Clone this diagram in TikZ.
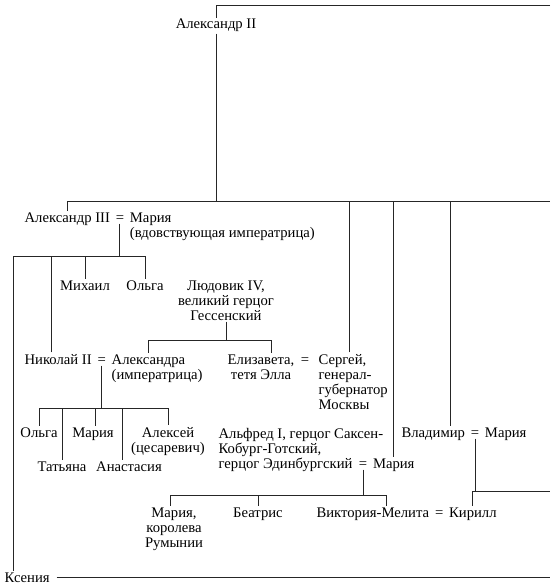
\documentclass[tikz,border=0pt]{standalone}
\usepackage{fontspec}
\setmainfont{Liberation Serif}
\usepackage{tikz}
\usetikzlibrary{calc,positioning}

\tikzset{
  person/.style={inner sep=1pt,anchor=base,align=center,
    font=\fontsize{11}{11.25}\selectfont},
  spouse/.style={person,node distance=2pt},
  tree/.style={line width=0.7pt,color=black!85}
}

\begin{document}
\begin{tikzpicture}[x=0.75pt,y=-0.75pt]
        \useasboundingbox (0,0) rectangle (550,588);
        % levels of the bars
        \coordinate (rim) at (550,5);
        \coordinate (bar1) at (0,201);
        \coordinate (bar2) at (0,256);
        \coordinate (bar3) at (0,340);
        \coordinate (bar4) at (0,408);
        \coordinate (bar5) at (0,495);
        \coordinate (bar6) at (0,491);
        % people (multi-line nodes sit on their last line)
        \node[person] (alex2) at (216,29) {Александр II};
        \node[person,anchor=base west] (alex3) at (23,222) {Александр III};
        \node[spouse,base right=of alex3] (eqA) {=};
        \node[spouse,base right=of eqA] (mariaF) {Мария};
        \node[person,anchor=base west] (dowager) at (mariaF.base west |- 0,237) {(вдовствующая императрица)};
        \node[person] (michail) at (85,290) {Михаил};
        \node[person] (olga1) at (145,290) {Ольга};
        \node[person] (ludwig) at (226,320) {Людовик IV,\\великий герцог\\Гессенский};
        \node[person,anchor=base west] (nik) at (23,364) {Николай II};
        \node[spouse,base right=of nik] (eqB) {=};
        \node[spouse,base right=of eqB] (alexandra) {Александра};
        \node[person,anchor=base west] (empress) at (alexandra.base west |- 0,379) {(императрица)};
        \node[person] (eliz) at (261,379) {Елизавета,\\тетя Элла};
        \node[person] (eqE) at (305,364) {=};
        \node[person,anchor=base west,align=left] (sergei) at (317,409) {Сергей,\\генерал-\\губернатор\\Москвы};
        \node[person] (olga2) at (39,437) {Ольга};
        \node[person] (maria2) at (93,437) {Мария};
        \node[person] (alexei) at (168,452) {Алексей\\(цесаревич)};
        \node[person] (tatiana) at (62,471) {Татьяна};
        \node[person] (anast) at (129,471) {Анастасия};
        \node[person,anchor=base west,align=left,
          font=\fontsize{11}{10}\selectfont] (alfred) at (217,468)
          {Альфред I, герцог Саксен-\\Кобург-Готский,\\герцог Эдинбургский};
        \node[person] (eqC) at (363,468) {=};
        \node[spouse,base right=of eqC] (maria3) {Мария};
        \node[person,anchor=base west] (vlad) at (400,437) {Владимир};
        \node[spouse,base right=of vlad] (eqD) {=};
        \node[spouse,base right=of eqD] (mariaV) {Мария};
        \node[person] (mariaR) at (174,547) {Мария,\\королева\\Румынии};
        \node[person] (beatrice) at (258,517) {Беатрис};
        \node[person,anchor=base west] (victoria) at (315,517) {Виктория-Мелита};
        \node[spouse,base right=of victoria] (eqV) {=};
        \node[spouse,base right=of eqV] (kirill) {Кирилл};
        \node[person,anchor=base west] (ksenia) at (3,582) {Ксения};
        % drop points
        \coordinate (dK) at ([xshift=8pt]ksenia.north west);
        \coordinate (dN) at ([xshift=-5pt]nik.north);
        \coordinate (dS) at ([xshift=-3pt]sergei.north);
        \coordinate (dV) at ([xshift=13pt]vlad.north);
        \coordinate (dE) at ([xshift=8pt]eliz.north);
        \coordinate (dM) at ([xshift=2pt]maria2.north);
        \coordinate (dA) at ([xshift=-5pt]anast.north);
        \coordinate (dR) at ([xshift=-3pt]mariaR.north);
        \coordinate (dVM) at ([xshift=10pt]victoria.north);
        % Alexander II
        \draw[tree] (rim) -- (rim -| alex2) -- (alex2.north);
        \draw[tree] (alex2.south) -- (alex2 |- bar1);
        \draw[tree] (alex3.north) -- (alex3.north |- bar1) -- (bar1 -| rim);
        \draw[tree] (dS) -- (dS |- bar1);
        \draw[tree] (maria3.north) -- (maria3.north |- bar1);
        \draw[tree] (dV) -- (dV |- bar1);
        % Alexander III
        \draw[tree] (eqA.south) -- (eqA |- bar2);
        \draw[tree] (dK) -- (dK |- bar2) -- (olga1 |- bar2) -- (olga1.north);
        \draw[tree] (dN) -- (dN |- bar2);
        \draw[tree] (michail.north) -- (michail |- bar2);
        \draw[tree] ([xshift=4pt]ksenia.east) -- (ksenia.east -| rim);
        % Ludwig IV
        \draw[tree] (ludwig.south) -- (ludwig |- bar3);
        \draw[tree] (alexandra.north) -- (alexandra.north |- bar3) -- (dE |- bar3) -- (dE);
        % Nicholas II
        \draw[tree] (eqB.south) -- (eqB |- bar4);
        \draw[tree] (olga2.north) -- (olga2 |- bar4) -- (alexei |- bar4) -- (alexei.north);
        \draw[tree] (dM) -- (dM |- bar4);
        \draw[tree] (tatiana.north) -- (tatiana |- bar4);
        \draw[tree] (dA) -- (dA |- bar4);
        % Alfred
        \draw[tree] (eqC.south) -- (eqC |- bar5);
        \draw[tree] (dR) -- (dR |- bar5) -- (dVM |- bar5) -- (dVM);
        \draw[tree] (beatrice.north) -- (beatrice |- bar5);
        % Vladimir
        \draw[tree] (eqD.south) -- (eqD |- bar6);
        \draw[tree] (kirill.north) -- (kirill |- bar6) -- (bar6 -| rim);
      \end{tikzpicture}
\end{document}
